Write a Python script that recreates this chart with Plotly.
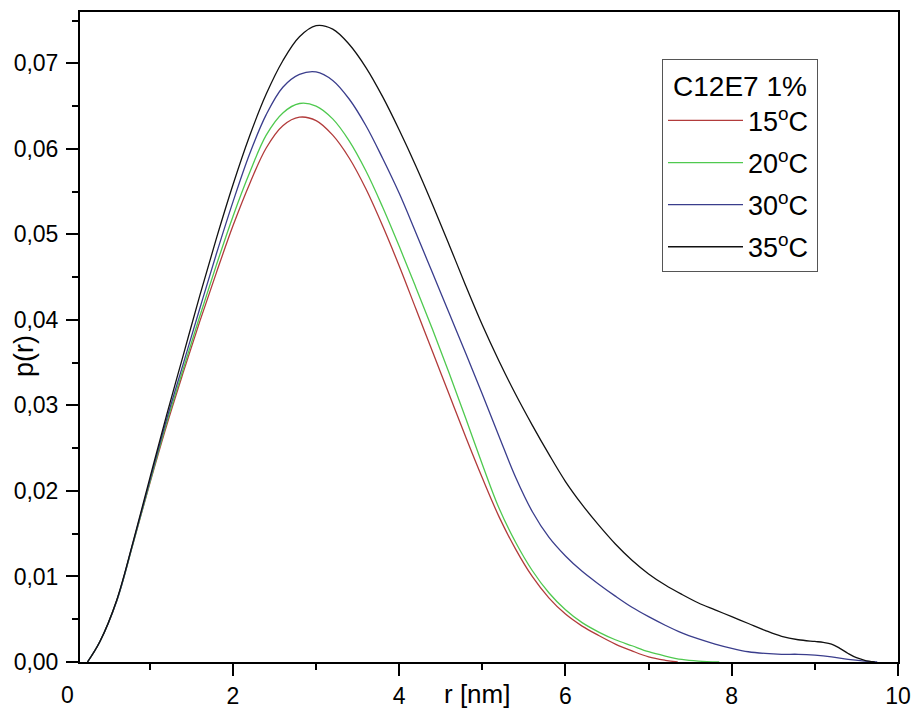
import plotly.graph_objects as go

# ---- data ----
r_15 = [0.25, 0.4, 0.6, 0.8, 1.0, 1.2, 1.4, 1.6, 1.8, 2.0, 2.2, 2.4, 2.6, 2.8,
        3.0, 3.2, 3.4, 3.6, 3.8, 4.0, 4.2, 4.4, 4.6, 4.8, 5.0, 5.2, 5.4, 5.6, 5.8, 6.0, 6.2, 6.4,
        6.6, 6.8, 7.0, 7.2, 7.35]
p_15 = [0.0, 0.0024, 0.0071, 0.0139, 0.0209, 0.0276, 0.0338, 0.0398, 0.0455, 0.0510, 0.0559, 0.0601,
        0.0627, 0.0637,
        0.0633, 0.0616, 0.0589, 0.0553, 0.0510, 0.0463, 0.0413, 0.0363, 0.0313, 0.0263, 0.0215,
        0.0170, 0.0132, 0.0100, 0.0075, 0.0056, 0.0042, 0.0031, 0.0021, 0.0013, 0.0006, 0.0002, 0.0]

r_20 = [0.25, 0.4, 0.6, 0.8, 1.0, 1.2, 1.4, 1.6, 1.8, 2.0, 2.2, 2.4, 2.6, 2.8,
        3.0, 3.2, 3.4, 3.6, 3.8, 4.0, 4.2, 4.4, 4.6, 4.8, 5.0, 5.2, 5.4, 5.6, 5.8, 6.0, 6.2, 6.4,
        6.6, 6.8, 7.0, 7.2, 7.4, 7.6, 7.85]
p_20 = [0.0, 0.0024, 0.0071, 0.0139, 0.0210, 0.0279, 0.0342, 0.0404, 0.0464, 0.0521, 0.0572, 0.0616,
        0.0642, 0.0653,
        0.0650, 0.0635, 0.0609, 0.0574, 0.0532, 0.0486, 0.0438, 0.0389, 0.0338, 0.0285, 0.0231,
        0.0180, 0.0140, 0.0107, 0.0081, 0.0061, 0.0046, 0.0035, 0.0026, 0.0019, 0.0012, 0.0007,
        0.0003, 0.0001, 0.0]

r_30 = [0.25, 0.4, 0.6, 0.8, 1.0, 1.2, 1.4, 1.6, 1.8, 2.0, 2.2, 2.4, 2.6, 2.8,
        3.0, 3.2, 3.4, 3.6, 3.8, 4.0, 4.2, 4.4, 4.6, 4.8, 5.0, 5.2, 5.4, 5.6, 5.8, 6.0, 6.2, 6.4,
        6.6, 6.8, 7.0, 7.2, 7.4, 7.6, 7.8, 8.0, 8.2, 8.4, 8.6, 8.8, 9.0, 9.2, 9.4, 9.6, 9.75]
p_30 = [0.0, 0.0024, 0.0071, 0.0140, 0.0212, 0.0283, 0.0348, 0.0413, 0.0477, 0.0538, 0.0594, 0.0640,
        0.0672, 0.0687,
        0.0690, 0.0680, 0.0658, 0.0627, 0.0589, 0.0548, 0.0502, 0.0455, 0.0408, 0.0361, 0.0313,
        0.0264, 0.0216, 0.0176, 0.0146, 0.0124, 0.0106, 0.0091, 0.0077, 0.0064, 0.0053, 0.0043,
        0.0034, 0.0027, 0.0021, 0.0016, 0.0012, 0.0010, 0.0009, 0.0009, 0.0008, 0.0006, 0.0003,
        0.0001, 0.0]

r_35 = [0.25, 0.4, 0.6, 0.8, 1.0, 1.2, 1.4, 1.6, 1.8, 2.0, 2.2, 2.4, 2.6, 2.8,
        3.0, 3.2, 3.4, 3.6, 3.8, 4.0, 4.2, 4.4, 4.6, 4.8, 5.0, 5.2, 5.4, 5.6, 5.8, 6.0, 6.2, 6.4,
        6.6, 6.8, 7.0, 7.2, 7.4, 7.6, 7.8, 8.0, 8.2, 8.4, 8.6, 8.8, 9.0, 9.1, 9.2, 9.3, 9.4, 9.5,
        9.6, 9.72]
p_35 = [0.0, 0.0024, 0.0072, 0.0141, 0.0215, 0.0288, 0.0358, 0.0428, 0.0495, 0.0558, 0.0615, 0.0664,
        0.0703, 0.0731,
        0.0744, 0.0740, 0.0722, 0.0695, 0.0661, 0.0622, 0.0580, 0.0535, 0.0488, 0.0440, 0.0394,
        0.0352, 0.0313, 0.0277, 0.0243, 0.0211, 0.0184, 0.0160, 0.0138, 0.0119, 0.0103, 0.0090,
        0.0079, 0.0069, 0.0061, 0.0053, 0.0045, 0.0037, 0.0030, 0.0026, 0.0024, 0.0023, 0.0021,
        0.0016, 0.0010, 0.0005, 0.0002, 0.0]

series_names = ["15<sup>o</sup>C", "20<sup>o</sup>C", "30<sup>o</sup>C", "35<sup>o</sup>C"]
series_r = [r_15, r_20, r_30, r_35]
series_p = [p_15, p_20, p_30, p_35]
series_colors = ["#b23b3b", "#4fc94f", "#3a3d8c", "#111111"]

legend_title = "C12E7 1%"
x_title = "r [nm]"
y_title = "p(r)"
x_ticks = [2, 4, 6, 8, 10]
y_ticks = [0.0, 0.01, 0.02, 0.03, 0.04, 0.05, 0.06, 0.07]

FONT = "Liberation Sans, Arial, sans-serif"

fig = go.Figure()
for i, (name, xs, ys, col) in enumerate(zip(series_names, series_r, series_p, series_colors)):
    fig.add_trace(go.Scatter(
        x=xs, y=ys, mode="lines", name=name, legendgroup=f"g{i}",
        line=dict(color=col, width=1.3, shape="spline", smoothing=1.0),
    ))

axis_common = dict(
    showline=True, linecolor="black", linewidth=2, mirror=True,
    ticks="outside", tickcolor="black", tickwidth=2, ticklen=12,
    showgrid=False, zeroline=False, automargin=False,
    tickfont=dict(family=FONT, size=23, color="black"),
)

fig.update_layout(
    width=916, height=712,
    margin=dict(l=80, r=18, t=12, b=50),
    paper_bgcolor="white", plot_bgcolor="white",
    separators=",.",
    font=dict(family=FONT, color="black"),
    xaxis=dict(
        range=[0.16, 10], tickvals=x_ticks, ticklabelstandoff=0,
        minor=dict(ticks="outside", ticklen=6, tickwidth=2, tickcolor="black", dtick=1, tick0=1),
        **axis_common,
    ),
    yaxis=dict(
        range=[0, 0.076], tickvals=y_ticks, tickformat=".2f", ticklabelstandoff=3,
        minor=dict(ticks="outside", ticklen=6, tickwidth=2, tickcolor="black", dtick=0.005, tick0=0.005),
        **axis_common,
    ),
    legend=dict(
        x=(662 - 80) / 818, y=(662 - 59) / 650, xanchor="left", yanchor="top",
        bordercolor="#555555", borderwidth=1, bgcolor="white",
        font=dict(family=FONT, size=27, color="black"),
        title=dict(text="&nbsp;" + legend_title + "&nbsp;", side="top center",
                   font=dict(family=FONT, size=28, color="black")),
        itemwidth=75, tracegroupgap=4,
    ),
    showlegend=True,
)

fig.add_annotation(text="0", xref="paper", yref="paper", x=(67 - 80) / 818, y=(662 - 695) / 650,
                   showarrow=False, xanchor="center", yanchor="middle",
                   font=dict(family=FONT, size=23, color="black"))
fig.add_annotation(text=x_title, xref="paper", yref="paper", x=(477 - 80) / 818, y=(662 - 694) / 650,
                   showarrow=False, xanchor="center", yanchor="middle",
                   font=dict(family=FONT, size=26, color="black"))
fig.add_annotation(text=y_title, xref="paper", yref="paper", x=(24 - 80) / 818, y=(662 - 356) / 650,
                   showarrow=False, xanchor="center", yanchor="middle", textangle=-90,
                   font=dict(family=FONT, size=27, color="black"))

fig.write_html("out.html")
